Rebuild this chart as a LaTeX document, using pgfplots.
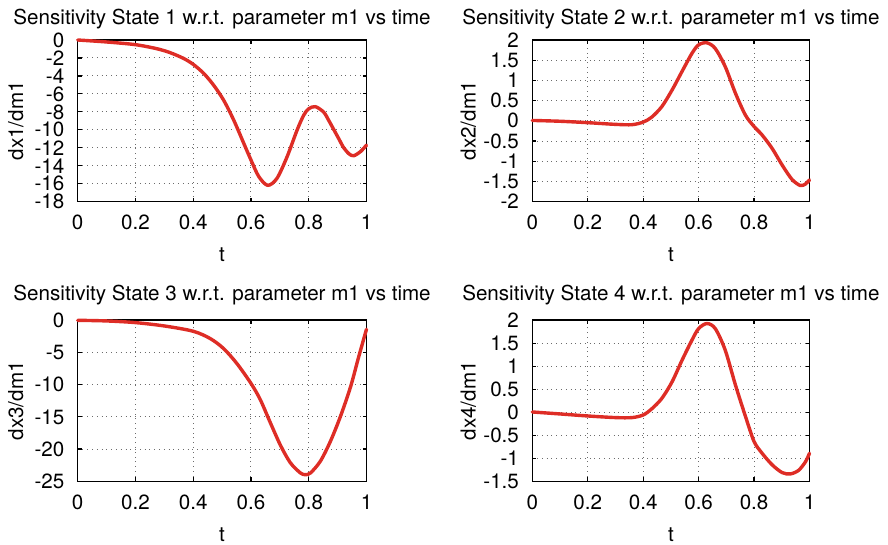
\documentclass[border=0pt]{standalone}
\usepackage{fontspec}
\setmainfont{TeX Gyre Heros}
\usepackage{pgfplots}
\pgfplotsset{compat=1.18}
\definecolor{gpred}{RGB}{222,45,38}
\pgfplotsset{
  gp/.style={
    scale only axis,
    clip=false,
    xmin=0, xmax=1,
    xtick={0,0.2,0.4,0.6,0.8,1},
    xticklabels={0,0.2,0.4,0.6,0.8,1},
    font=\fontsize{10.3bp}{12bp}\selectfont,
    /pgf/number format/assume math mode=true,
    grid=major,
    major grid style={dotted, gray!85!black, line width=0.5bp},
    axis line style={line width=0.8bp, black},
    tick align=inside,
    tick pos=both,
    major tick length=2bp,
    tick style={line width=0.6bp, black},
    xticklabel style={anchor=base, inner sep=0pt, yshift=-14bp},
    yticklabel style={anchor=east, inner sep=0pt, xshift=-6.5bp},
    xlabel={t},
    xlabel style={at={([yshift=-30bp]axis description cs:0.5,0)}, anchor=base, inner sep=0pt},
    every axis title/.style={anchor=base, inner sep=0pt},
  },
  gpline/.style={color=gpred, line width=1.7bp, smooth, no marks, line join=round, line cap=round},
}
\begin{document}
\begin{tikzpicture}
\path[use as bounding box] (0,0) rectangle (444bp,272.5bp);
% Plot 1
\begin{axis}[gp, at={(38.85bp,171.65bp)}, anchor=south west,
  width=144.4bp, height=80.85bp,
  ymin=-18, ymax=0, ytick={-18,-16,...,0},
  ylabel={dx1/dm1},
  ylabel style={at={([xshift=-31bp]axis description cs:0,0.5)}, anchor=center, inner sep=0pt},
  title={Sensitivity State 1 w.r.t. parameter m1 vs time},
  title style={at={([yshift=7.5bp]axis description cs:0.5,1)}},
]
\addplot[gpline] coordinates {
(0,0) (0.1,-0.22) (0.2,-0.52) (0.274,-0.97) (0.32,-1.41) (0.366,-2.04) (0.4,-2.71)
(0.436,-3.71) (0.47,-5.0) (0.505,-6.68) (0.54,-8.9) (0.575,-11.5) (0.6,-13.36)
(0.627,-15.2) (0.658,-16.18) (0.69,-15.4) (0.725,-13.0) (0.76,-10.0) (0.783,-8.35)
(0.8,-7.65) (0.823,-7.42) (0.852,-8.04) (0.87,-9.0) (0.887,-9.99) (0.905,-11.05)
(0.921,-11.99) (0.94,-12.69) (0.956,-12.88) (0.979,-12.43) (1.0,-11.7)
};
\end{axis}
% Plot 2
\begin{axis}[gp, at={(266.15bp,171.65bp)}, anchor=south west,
  width=138.6bp, height=80.85bp,
  ymin=-2, ymax=2, ytick={-2,-1.5,...,2},
  ylabel={dx2/dm1},
  ylabel style={at={([xshift=-32bp]axis description cs:0,0.5)}, anchor=center, inner sep=0pt},
  title={Sensitivity State 2 w.r.t. parameter m1 vs time},
  title style={at={([yshift=7.5bp]axis description cs:0.5,1)}},
]
\addplot[gpline] coordinates {
(0,0.01) (0.1,-0.01) (0.2,-0.045) (0.3,-0.087) (0.36,-0.095) (0.4,-0.03) (0.43,0.087)
(0.467,0.35) (0.504,0.76) (0.54,1.22) (0.576,1.67) (0.6,1.88) (0.63,1.93) (0.66,1.79)
(0.696,1.34) (0.733,0.68) (0.769,0.14) (0.8,-0.14) (0.829,-0.35) (0.865,-0.68)
(0.901,-1.09) (0.937,-1.45) (0.967,-1.6) (0.986,-1.56) (1.0,-1.46)
};
\end{axis}
% Plot 3
\begin{axis}[gp, at={(38.85bp,31.85bp)}, anchor=south west,
  width=144.4bp, height=80.5bp,
  ymin=-25, ymax=0, ytick={-25,-20,...,0},
  ylabel={dx3/dm1},
  ylabel style={at={([xshift=-31bp]axis description cs:0,0.5)}, anchor=center, inner sep=0pt},
  title={Sensitivity State 3 w.r.t. parameter m1 vs time},
  title style={at={([yshift=10bp]axis description cs:0.5,1)}},
]
\addplot[gpline] coordinates {
(0,0) (0.1,-0.1) (0.2,-0.36) (0.3,-0.88) (0.4,-1.7) (0.459,-2.84) (0.505,-4.38)
(0.551,-6.7) (0.6,-9.8) (0.632,-12.3) (0.667,-15.9) (0.702,-19.4) (0.736,-22.1)
(0.771,-23.7) (0.788,-23.97) (0.806,-23.7) (0.84,-21.9) (0.875,-18.8) (0.91,-14.9)
(0.945,-10.3) (0.973,-5.67) (1.0,-1.39)
};
\end{axis}
% Plot 4
\begin{axis}[gp, at={(266.15bp,31.85bp)}, anchor=south west,
  width=138.6bp, height=80.5bp,
  ymin=-1.5, ymax=2, ytick={-1.5,-1,...,2},
  ylabel={dx4/dm1},
  ylabel style={at={([xshift=-32bp]axis description cs:0,0.5)}, anchor=center, inner sep=0pt},
  title={Sensitivity State 4 w.r.t. parameter m1 vs time},
  title style={at={([yshift=10bp]axis description cs:0.5,1)}},
]
\addplot[gpline] coordinates {
(0,0.007) (0.1,-0.036) (0.2,-0.08) (0.3,-0.115) (0.36,-0.115) (0.4,-0.058) (0.43,0.07)
(0.467,0.3) (0.504,0.66) (0.54,1.13) (0.576,1.57) (0.6,1.82) (0.63,1.93) (0.66,1.82)
(0.696,1.35) (0.733,0.59) (0.769,-0.09) (0.8,-0.635) (0.829,-0.89) (0.865,-1.14)
(0.901,-1.31) (0.931,-1.34) (0.961,-1.26) (0.986,-1.07) (1.0,-0.89)
};
\end{axis}
\end{tikzpicture}
\end{document}
